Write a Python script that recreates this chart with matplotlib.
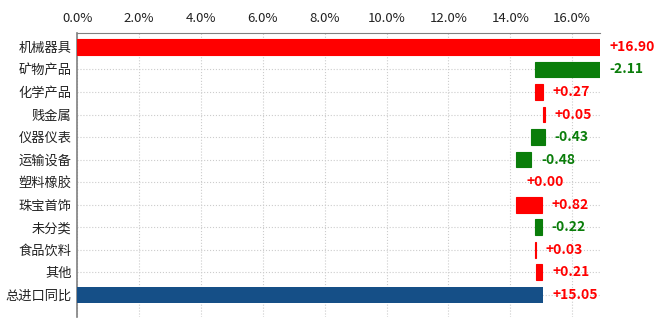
import numpy as np
import matplotlib.pyplot as plt
from matplotlib.ticker import FuncFormatter

plt.rcParams['font.family'] = ['Noto Sans CJK SC', 'DejaVu Sans']

categories = ['机械器具', '矿物产品', '化学产品', '贱金属', '仪器仪表', '运输设备',
              '塑料橡胶', '珠宝首饰', '未分类', '食品饮料', '其他', '总进口同比']
changes = [16.90, -2.11, 0.27, 0.05, -0.43, -0.48, 0.00, 0.82, -0.22, 0.03, 0.21]
total = 15.05

red = '#ff0000'
green = '#0a7d0a'
navy = '#154f87'

# waterfall: running start of each bar
starts = []
run = 0.0
for c in changes:
    starts.append(run)
    run += c

fig = plt.figure(figsize=(6.6, 3.23), dpi=100)
ax = fig.add_axes([0.117, 0.019, 0.792, 0.879])

y = np.arange(len(categories))
for i, c in enumerate(changes):
    col = red if c >= 0 else green
    lw = 0.8 if c != 0 else 0
    ax.barh(y[i], c, left=starts[i], height=0.7, color=col, edgecolor=col,
            linewidth=lw, zorder=3)
    right = max(starts[i], starts[i] + c)
    ax.text(right + 0.32, y[i], '%+.2f' % c if c != 0 else '+0.00',
            color=col, fontsize=10, fontweight='bold', va='center', ha='left')
ax.barh(y[-1], total, left=0, height=0.7, color=navy, zorder=3)
ax.text(total + 0.32, y[-1], '+%.2f' % total, color=red, fontsize=10,
        fontweight='bold', va='center', ha='left')

ax.set_xlim(0, 16.9)
ax.set_ylim(11.98, -0.62)
ax.set_yticks(y)
ax.set_yticklabels(categories, fontsize=9.5, color='#222222')
ax.set_xticks(np.arange(0, 17, 2))
ax.xaxis.set_major_formatter(FuncFormatter(lambda v, p: '%.1f%%' % v))
ax.xaxis.tick_top()
ax.tick_params(axis='x', length=0, labelsize=9.5, colors='#222222', pad=6)
ax.tick_params(axis='y', length=0, pad=4)

ax.grid(True, color='#cccccc', linestyle=':', linewidth=0.8, zorder=0)
for s in ['right', 'bottom']:
    ax.spines[s].set_visible(False)
ax.spines['left'].set_color('#808080')
ax.spines['top'].set_color('#808080')
ax.spines['left'].set_linewidth(1.2)

fig.savefig('out.png', dpi=100)
